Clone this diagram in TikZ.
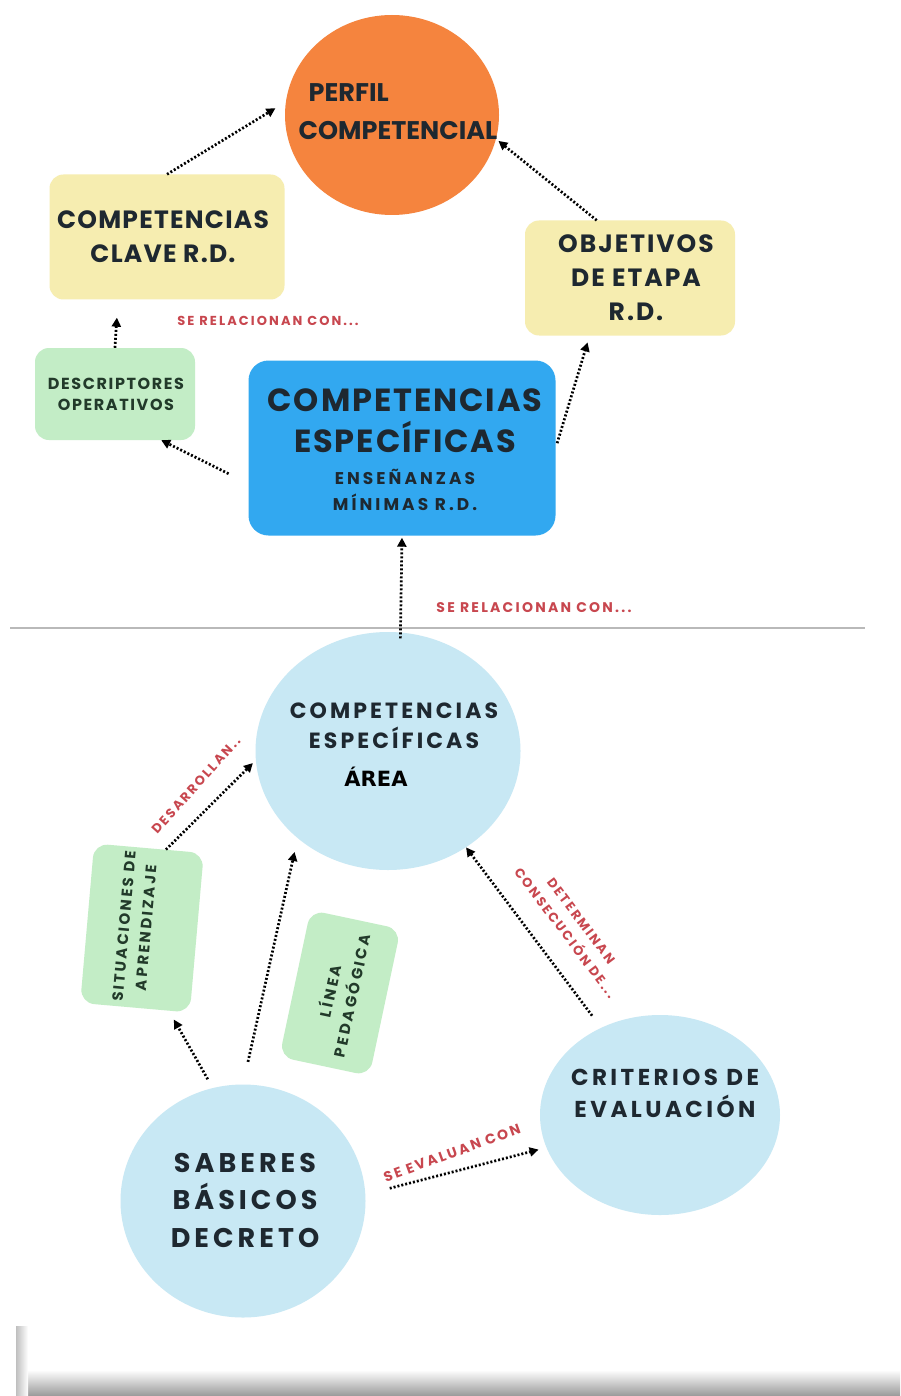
\documentclass[tikz,border=0pt]{standalone}
\usepackage{fontspec}
\setmainfont{Poppins}
\newfontfamily\areafont{DejaVu Sans}
\usetikzlibrary{shapes.geometric,arrows.meta}
\definecolor{orangeP}{HTML}{F5843E}
\definecolor{yellowP}{HTML}{F6EDB0}
\definecolor{greenP}{HTML}{C3EDC6}
\definecolor{blueP}{HTML}{32A8F0}
\definecolor{lblueP}{HTML}{C8E8F4}
\definecolor{redP}{HTML}{C8474F}
\definecolor{ink}{HTML}{1E2830}
\definecolor{inkG}{HTML}{223A2A}
\newcommand{\fsl}[3]{\fontsize{#1}{#2}\selectfont\bfseries\addfontfeatures{LetterSpace=#3}}
\begin{document}
\begin{tikzpicture}[x=1pt,y=-1pt,
  txt/.style={text=ink, align=center, inner sep=0pt},
  blob/.style={ellipse, inner sep=0pt},
  box/.style={rectangle, rounded corners=14pt, inner sep=0pt},
  redlab/.style={text=redP, align=center, inner sep=0pt, font=\fsl{13}{20}{16}},
  arr/.style={line width=2.7pt, dash pattern=on 2pt off 2pt, -{Triangle[length=9pt,width=9pt]}, black}
]
\useasboundingbox[fill=white] (0,0) rectangle (900,1396);

% separator
\draw[gray!55, line width=1.6pt] (10,628) -- (865,628);

% top nodes
\node[blob, fill=orangeP, minimum width=214pt, minimum height=200pt] (perfil) at (392,115) {};
\node[txt, align=left, font=\fsl{25.5}{38}{0}] (perfilT) at (398,112) {\hspace*{10pt}PERFIL\\COMPETENCIAL};
\node[box, fill=yellowP, minimum width=235pt, minimum height=125pt] (clave) at (167,237) {};
\node[txt, font=\fsl{25}{34}{5}] (claveT) at (163,237) {COMPETENCIAS\\CLAVE R.D.};
\node[box, fill=yellowP, minimum width=210pt, minimum height=115pt] (objetivos) at (630,278) {};
\node[txt, font=\fsl{25}{34}{8}] (objT) at (636,278) {OBJETIVOS\\DE ETAPA\\R.D.};
\node[box, fill=greenP, minimum width=160pt, minimum height=92pt] (descriptores) at (115,394) {};
\node[txt, text=inkG, font=\fsl{16}{21}{10}] (descT) at (116,394) {DESCRIPTORES\\OPERATIVOS};
\node[box, fill=blueP, minimum width=307pt, minimum height=175pt, rounded corners=20pt] (ce) at (402,448) {};
\node[txt, font=\fsl{32}{41}{6}] (ceT) at (405,421) {COMPETENCIAS\\ESPECÍFICAS};
\node[txt, font=\fsl{17}{26}{18}] (ceS) at (405,490) {ENSEÑANZAS\\MÍNIMAS R.D.};

\node[redlab] (rel1) at (268,321) {SE RELACIONAN CON...};
\node[redlab, font=\fsl{14}{20}{16}] (rel2) at (534,608) {SE RELACIONAN CON...};

% bottom nodes
\node[blob, fill=lblueP, minimum width=265pt, minimum height=238pt] (cearea) at (388,751) {};
\node[txt, font=\fsl{22}{30}{14}] (ceaT) at (394,726) {COMPETENCIAS\\ESPECÍFICAS};
\node[inner sep=0pt, text=black, font=\areafont\bfseries\fontsize{21}{24}\selectfont] (ceaA) at (376,777) {ÁREA};

\node[box, fill=greenP, minimum width=160pt, minimum height=110pt, rotate=85] (situaciones) at (142,928) {};
\node[txt, text=inkG, rotate=85, font=\fsl{15}{22}{16}] (sitT) at (135,927) {SITUACIONES DE\\APRENDIZAJE};
\node[box, fill=greenP, minimum width=150pt, minimum height=92pt, rotate=78] (linea) at (340,993) {};
\node[txt, text=inkG, rotate=78, font=\fsl{15}{22}{18}] (lineaT) at (340,993) {LÍNEA\\PEDAGÓGICA};

\node[blob, fill=lblueP, minimum width=240pt, minimum height=200pt] (criterios) at (660,1115) {};
\node[txt, font=\fsl{23}{32}{15}] (critT) at (665,1093) {CRITERIOS DE\\EVALUACIÓN};
\node[blob, fill=lblueP, minimum width=245pt, minimum height=233pt] (saberes) at (243,1201) {};
\node[txt, font=\fsl{27}{37.5}{15}] (sabT) at (245,1200) {SABERES\\BÁSICOS\\DECRETO};

\node[redlab, rotate=48] (desarrollan) at (196,785) {DESARROLLAN..};
\node[redlab, rotate=-53] (determinan) at (573,927) {DETERMINAN\\CONSECUCIÓN DE...};
\node[redlab, font=\fsl{14}{20}{16}, rotate=20] (evaluan) at (452,1153) {SE EVALUAN CON};

% connectors
\draw[arr, shorten >=12pt] (clave.north) -- (perfil.173);
\draw[arr, shorten >=3pt] (objetivos.120) -- (perfil.-13);
\draw[arr, shorten >=18pt] (descriptores.north) -- (clave.232);
\draw[arr, shorten <=22pt] (ce.193) -- (descriptores.-45);
\draw[arr, shorten <=5pt, shorten >=7pt] (ce.east) -- (objetivos.235);
\draw[arr, shorten <=-6pt, shorten >=2pt] (cearea.84) -- (ce.south);
\draw[arr, shorten >=4pt] (situaciones.-12) -- (cearea.184);
\draw[arr, shorten <=23pt, shorten >=14pt] (saberes.north) -- (cearea.224);
\draw[arr, shorten <=10pt, shorten >=10pt] (saberes.105) -- (situaciones.203);
\draw[arr, shorten <=15pt] (criterios.124) -- (cearea.-51);
\draw[arr, shorten <=25pt, shorten >=8pt] (saberes.3) -- (criterios.196);

% page shadow at the bottom
\shade[top color=white, bottom color=gray!80] (20,1370) rectangle (900,1396);
\shade[left color=gray!50, right color=white] (16,1326) rectangle (28,1396);
\end{tikzpicture}
\end{document}
